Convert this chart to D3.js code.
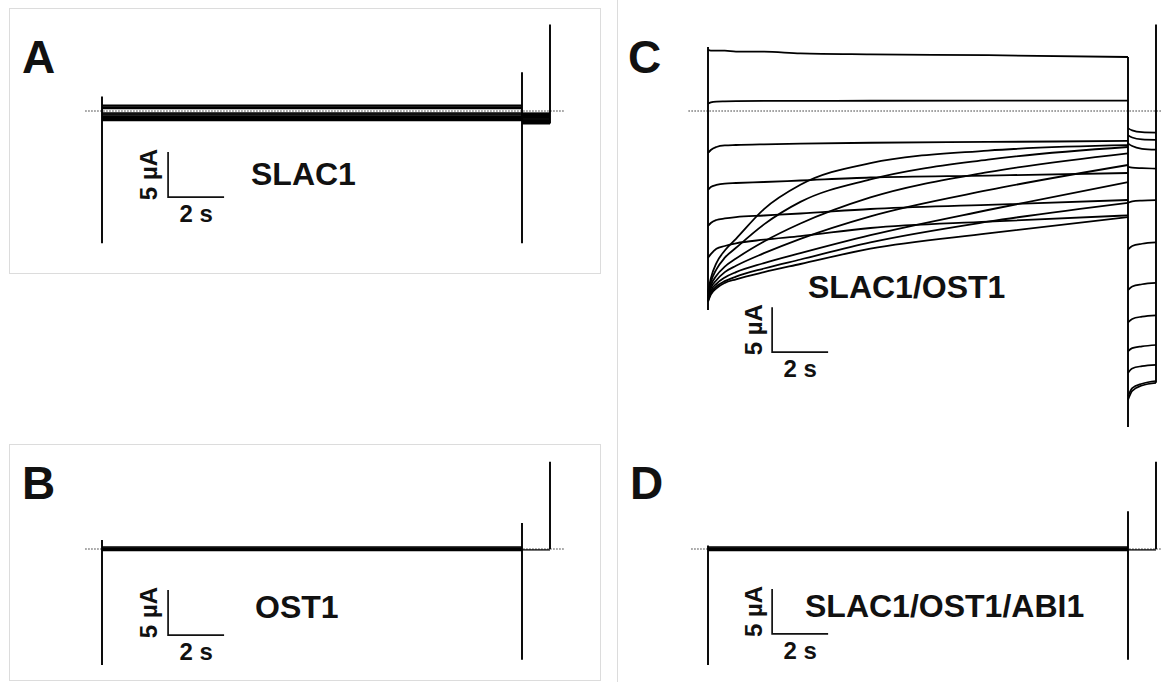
<!DOCTYPE html>
<html>
<head>
<meta charset="utf-8">
<script src="https://d3js.org/d3.v7.min.js"></script>
<style>
  body { margin: 0; background: #fff; }
  text { font-family: "Liberation Sans", Arial, sans-serif; font-weight: bold; fill: #111; }
</style>
</head>
<body>
<div id="my_dataviz"></div>
<script>

// sample times (s) of the test pulse and of the tail pulse
var pulseTimes = [0, 0.1, 0.3, 0.6, 1, 2, 3.3, 5.8, 10, 15];
var tailTimes = [15, 15.15, 15.5, 16];

// A - SLAC1 alone: flat currents (uA), one per voltage step
var slac1Levels = [0.65, 0.55, 0.42, 0.28, -0.22, -0.33, -0.45, -0.57, -0.69, -0.8, -0.92, -1.05];
var slac1TailLevels = [-0.25, -0.38, -0.5, -0.63, -0.76, -0.89, -1.02, -1.15, -1.28, -1.4];
// capacitive transients: [time, top, bottom]
var slac1Spikes = [[0, 1.6, -14.7], [15, 4.3, -14.7], [16, 9.6, -1.4]];

// B - OST1 alone
var ost1Levels = [0.22, 0.12, 0.02, -0.08, -0.18];
var ost1TailLevels = [-0.1];
var ost1Spikes = [[0, 1.0, -12.9], [15, 2.9, -12.3], [16, 9.7, 0]];

// C - SLAC1/OST1, values at pulseTimes
var slac1Ost1Traces = [
  [6.8, 6.7, 6.7, 6.7, 6.6, 6.6, 6.4, 6.3, 6.2, 6.0],
  [0.8, 0.95, 1.05, 1.08, 1.1, 1.12, 1.13, 1.14, 1.15, 1.15],
  [-4.67, -4.33, -4.0, -3.83, -3.78, -3.7, -3.63, -3.53, -3.44, -3.33],
  [-8.78, -8.44, -8.22, -8.06, -8.0, -7.89, -7.72, -7.39, -7.17, -6.89],
  [-12.78, -12.44, -12.11, -11.94, -11.78, -11.61, -11.39, -10.89, -10.44, -9.89],
  [-16.3, -15.9, -15.3, -15.0, -14.7, -14.3, -13.9, -13.0, -12.3, -11.6],
  [-20.1, -18.6, -16.9, -15.5, -14.2, -10.9, -8.2, -5.8, -4.4, -3.8],
  [-20.3, -19.0, -17.6, -16.3, -15.2, -12.6, -10.1, -7.6, -5.4, -4.0],
  [-20.6, -19.4, -18.3, -17.3, -16.4, -14.5, -12.5, -9.6, -6.8, -4.7],
  [-20.8, -19.7, -18.8, -17.9, -17.2, -15.8, -14.2, -11.7, -8.8, -6.0],
  [-21.0, -20.0, -19.2, -18.5, -17.9, -16.9, -15.8, -13.8, -11.0, -7.9],
  [-21.1, -20.2, -19.5, -18.9, -18.4, -17.5, -16.5, -14.6, -12.3, -10.2],
  [-21.2, -20.4, -19.7, -19.1, -18.7, -17.9, -17.0, -15.3, -13.6, -11.8]
];
// tail currents, values at tailTimes
var slac1Ost1Tails = [
  [-1.9, -2.15, -2.35, -2.4],
  [-2.7, -2.95, -3.15, -3.2],
  [-3.6, -3.9, -4.2, -4.3],
  [-6.2, -6.3, -6.35, -6.4],
  [-10.2, -10.05, -9.95, -9.9],
  [-15.4, -15.0, -14.75, -14.6],
  [-19.9, -19.5, -19.25, -19.1],
  [-23.5, -23.1, -22.85, -22.7],
  [-26.7, -26.35, -26.15, -26.0],
  [-29.1, -28.6, -28.35, -28.2],
  [-31.7, -30.8, -30.3, -30.0],
  [-32.1, -31.1, -30.5, -30.2]
];
var slac1Ost1Spikes = [[0, 7.1, -22.1], [15, 6.0, -35.1], [16, 9.6, -30.2]];

// D - SLAC1/OST1/ABI1
var abi1Levels = [0.22, 0.12, 0.02, -0.08, -0.18];
var abi1TailLevels = [-0.1];
var abi1Spikes = [[0, 0.4, -12.9], [15, 4.2, -12.3], [16, 9.7, 0]];

// scale bars
var barSeconds = 2, barMicroAmps = 5;

var W = 1161, H = 682;

var svg = d3.select("#my_dataviz")
  .append("svg")
  .attr("width", W)
  .attr("height", H)
  .style("display", "block");

// light panel frames
svg.append("rect").attr("x", 9.5).attr("y", 8.5).attr("width", 591).attr("height", 265)
  .style("fill", "none").style("stroke", "#dcdcdc");
svg.append("rect").attr("x", 9.5).attr("y", 444.5).attr("width", 591).attr("height", 236)
  .style("fill", "none").style("stroke", "#dcdcdc");
svg.append("line").attr("x1", 617.5).attr("x2", 617.5).attr("y1", 0).attr("y2", H)
  .style("stroke", "#dcdcdc");

// shared scales: 28 px per second, 9 px per uA
var x = d3.scaleLinear().domain([0, 15]).range([0, 420]);
var y = d3.scaleLinear().domain([0, -5]).range([0, 45]);

var line = d3.line()
  .x(function(d) { return x(d[0]); })
  .y(function(d) { return y(d[1]); })
  .curve(d3.curveMonotoneX);

function flat(v, t0, t1) { return [[t0, v], [t1, v]]; }
function sampled(times, vals) { return times.map(function(t, i) { return [t, vals[i]]; }); }

function drawPanel(p) {
  var g = svg.append("g").attr("transform", "translate(" + p.left + "," + p.zero + ")");

  // zero current reference
  g.append("line")
    .attr("x1", x(p.dotFrom)).attr("x2", x(p.dotTo))
    .attr("y1", y(0)).attr("y2", y(0))
    .style("stroke", "#333").style("stroke-width", 1)
    .style("stroke-dasharray", "1.5,1.5");

  // test pulse traces
  g.selectAll(".trace")
    .data(p.traces)
    .enter()
    .append("path")
    .attr("d", line)
    .style("fill", "none").style("stroke", "#000").style("stroke-width", p.width);

  // tail traces
  g.selectAll(".tail")
    .data(p.tails)
    .enter()
    .append("path")
    .attr("d", line)
    .style("fill", "none").style("stroke", "#000").style("stroke-width", p.tailWidth);

  // capacitive transients
  g.selectAll(".spike")
    .data(p.spikes)
    .enter()
    .append("line")
    .attr("x1", function(d) { return x(d[0]); })
    .attr("x2", function(d) { return x(d[0]); })
    .attr("y1", function(d) { return y(d[1]); })
    .attr("y2", function(d) { return y(d[2]); })
    .style("stroke", "#000").style("stroke-width", 1.9);

  // scale bar
  var bx = x(p.bar[0]), by = y(p.bar[1]);
  g.append("path")
    .attr("d", "M" + bx + "," + y(p.bar[1] + barMicroAmps) + "V" + by + "H" + x(p.bar[0] + barSeconds))
    .style("fill", "none").style("stroke", "#111").style("stroke-width", 1.7);
  g.append("text")
    .attr("transform", "translate(" + (bx - p.ampGap) + "," + ((by + y(p.bar[1] + barMicroAmps)) / 2) + ") rotate(-90)")
    .attr("text-anchor", "middle")
    .style("font-size", "24px")
    .text(barMicroAmps + " µA");
  g.append("text")
    .attr("x", (bx + x(p.bar[0] + barSeconds)) / 2)
    .attr("y", by + 25)
    .attr("text-anchor", "middle")
    .style("font-size", "24px")
    .text(barSeconds + " s");

  // construct name
  svg.append("text")
    .attr("x", p.nameX).attr("y", p.nameY)
    .style("font-size", "32px")
    .text(p.name);

  // panel letter
  svg.append("text")
    .attr("x", p.letterX).attr("y", p.letterY)
    .style("font-size", "46px")
    .text(p.letter);
}

drawPanel({
  letter: "A", letterX: 22, letterY: 73,
  name: "SLAC1", nameX: 251, nameY: 185,
  left: 102, zero: 111, dotFrom: -0.6, dotTo: 16.5,
  traces: slac1Levels.map(function(v) { return flat(v, 0, 15); }),
  tails: slac1TailLevels.map(function(v) { return flat(v, 15, 16); }),
  spikes: slac1Spikes, width: 1.5, tailWidth: 1.8,
  bar: [2.36, -9.56], ampGap: 11
});

drawPanel({
  letter: "B", letterX: 22, letterY: 499,
  name: "OST1", nameX: 255, nameY: 618,
  left: 102, zero: 549, dotFrom: -0.6, dotTo: 16.5,
  traces: ost1Levels.map(function(v) { return flat(v, 0, 15); }),
  tails: ost1TailLevels.map(function(v) { return flat(v, 15, 16); }),
  spikes: ost1Spikes, width: 1.5, tailWidth: 1.3,
  bar: [2.36, -9.56], ampGap: 11
});

drawPanel({
  letter: "C", letterX: 628, letterY: 73,
  name: "SLAC1/OST1", nameX: 808, nameY: 298,
  left: 708, zero: 111, dotFrom: -0.7, dotTo: 16.6,
  traces: slac1Ost1Traces.map(function(r) { return sampled(pulseTimes, r); }),
  tails: slac1Ost1Tails.map(function(r) { return sampled(tailTimes, r); }),
  spikes: slac1Ost1Spikes, width: 1.8, tailWidth: 1.7,
  bar: [2.29, -26.8], ampGap: 10
});

drawPanel({
  letter: "D", letterX: 630, letterY: 499,
  name: "SLAC1/OST1/ABI1", nameX: 805, nameY: 617,
  left: 708, zero: 549, dotFrom: -0.6, dotTo: 16.6,
  traces: abi1Levels.map(function(v) { return flat(v, 0, 15); }),
  tails: abi1TailLevels.map(function(v) { return flat(v, 15, 16); }),
  spikes: abi1Spikes, width: 1.5, tailWidth: 1.3,
  bar: [2.29, -9.44], ampGap: 10
});

</script>
</body>
</html>
